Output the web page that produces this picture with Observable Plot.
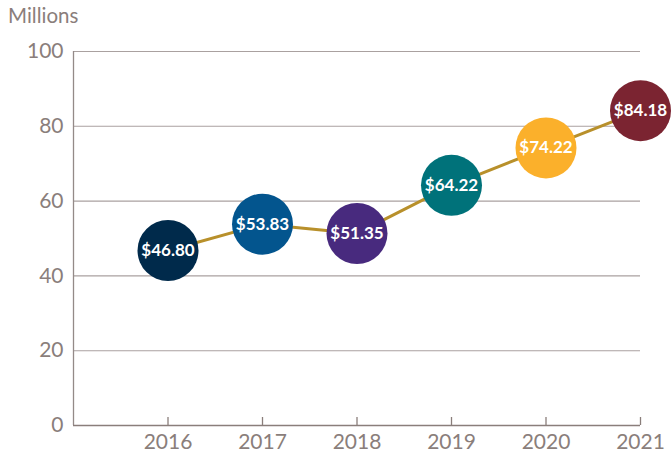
<!DOCTYPE html>
<html><head><meta charset="utf-8">
<script src="https://cdn.jsdelivr.net/npm/d3@7"></script>
<script src="https://cdn.jsdelivr.net/npm/@observablehq/plot@0.6"></script>
<style>
body{margin:0;background:#fff;}
#chart{position:relative;width:672px;height:461px;}
</style>
</head><body><div id="chart"></div>
<script>
const years = [2016, 2017, 2018, 2019, 2020, 2021];
const values = [46.80, 53.83, 51.35, 64.22, 74.22, 84.18];
const labels = ["$46.80", "$53.83", "$51.35", "$64.22", "$74.22", "$84.18"];
const colors = ["#002a4b", "#03558e", "#482a7e", "#00727a", "#fbb02b", "#7b2431"];
const yTicks = [0, 20, 40, 60, 80, 100];
const yTitle = "Millions";
const xDomain = [2015, 2021];
const yDomain = [0, 100];

const data = years.map((y, i) => ({year: y, value: values[i], label: labels[i], color: colors[i]}));
const textColor = "#8a7e7b";

const chart = Plot.plot({
  width: 672, height: 461,
  marginLeft: 73, marginRight: 32, marginTop: 51, marginBottom: 36,
  style: {fontFamily: "Lato, 'Open Sans', sans-serif", color: textColor, background: "#fff", overflow: "visible"},
  x: {domain: xDomain, type: "linear"},
  y: {domain: yDomain},
  marks: [
    Plot.ruleY(yTicks.filter(d => d > 0), {stroke: "#aaa1a0", strokeWidth: 1.1}),
    Plot.ruleX([xDomain[0]], {stroke: "#948a88", strokeWidth: 1.3}),
    Plot.ruleY([0], {stroke: "#8a7e7b", strokeWidth: 1.6}),
    Plot.axisY({ticks: yTicks, tickSize: 0, tickPadding: 10, fontSize: 21, label: null}),
    Plot.axisX({ticks: years, tickSize: -8, tickFormat: () => "", label: null, stroke: "#8a7e7b", strokeWidth: 1.3}),
    Plot.axisX({ticks: years, tickSize: 0, tickPadding: 9, tickFormat: d => String(d), fontSize: 21, label: null}),
    Plot.line(data, {x: "year", y: "value", stroke: "#b8902b", strokeWidth: 3}),
    Plot.dot(data, {x: "year", y: "value", r: 30.5, fill: d => d.color, stroke: null}),
    Plot.text(data, {x: "year", y: "value", text: "label", fill: "white", fontWeight: "bold", fontSize: 17})
  ]
});
chart.style.position = "absolute";
chart.style.left = "0px";
chart.style.top = "0px";
document.getElementById("chart").appendChild(chart);
d3.select(chart).append("text")
  .attr("x", 8).attr("y", 23)
  .attr("text-anchor", "start")
  .attr("fill", textColor).attr("font-size", 20.5)
  .attr("font-family", "Lato, 'Open Sans', sans-serif")
  .text(yTitle);
</script>
</body></html>
